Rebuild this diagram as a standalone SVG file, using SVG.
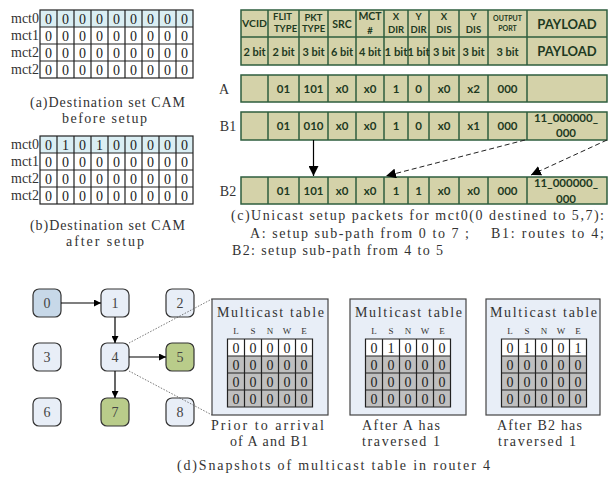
<svg xmlns="http://www.w3.org/2000/svg" width="609" height="477" viewBox="0 0 609 477">
<style>
.m{font-family:"Liberation Serif",serif;font-size:14px;fill:#333}
.d{font-family:"Liberation Serif",serif;font-size:14px;fill:#222;text-anchor:middle}
.c{stroke:#222;stroke-width:1.2}
.hb{font-family:Lato,"Liberation Sans",sans-serif;font-weight:700;fill:#1e3a22;text-anchor:middle}
.pk{fill:#d4d2a9;stroke:#2e5e3e;stroke-width:1.5}
.nd{stroke:#333;stroke-width:1.2}
.nl{font-family:"Liberation Serif",serif;font-size:14px;fill:#444;text-anchor:middle}
.mt{fill:#e8eef7;stroke:#444;stroke-width:1.2}
.hd{font-family:"Liberation Serif",serif;font-size:9px;fill:#333;text-anchor:middle}
</style>
<defs>
<marker id="ar" viewBox="0 0 10 10" refX="10" refY="5" markerWidth="7" markerHeight="7" orient="auto" markerUnits="userSpaceOnUse"><path d="M0,0L10,5L0,10z" fill="#000"/></marker>
<marker id="ar2" viewBox="0 0 10 10" refX="10" refY="5" markerWidth="10" markerHeight="10" orient="auto" markerUnits="userSpaceOnUse"><path d="M0,0L10,5L0,10z" fill="#000"/></marker>
</defs>

<!-- (a) CAM before setup -->
<g id="cam-a">
<rect x="40" y="10" width="153" height="17" fill="#daeef3"/>
<g class="c" fill="none">
<rect x="40" y="10" width="153" height="68"/>
<path d="M40,27H193M40,44H193M40,61H193M57,10V78M74,10V78M91,10V78M108,10V78M125,10V78M142,10V78M159,10V78M176,10V78"/>
</g>
<text class="m" x="39" y="23" text-anchor="end" textLength="28" lengthAdjust="spacingAndGlyphs">mct0</text>
<text class="m" x="39" y="40" text-anchor="end" textLength="28" lengthAdjust="spacingAndGlyphs">mct1</text>
<text class="m" x="39" y="57" text-anchor="end" textLength="28" lengthAdjust="spacingAndGlyphs">mct2</text>
<text class="m" x="39" y="74" text-anchor="end" textLength="28" lengthAdjust="spacingAndGlyphs">mct2</text>
<g class="d">
<text x="48.5" y="24">0</text><text x="65.5" y="24">0</text><text x="82.5" y="24">0</text><text x="99.5" y="24">0</text><text x="116.5" y="24">0</text><text x="133.5" y="24">0</text><text x="150.5" y="24">0</text><text x="167.5" y="24">0</text><text x="184.5" y="24">0</text>
<text x="48.5" y="41">0</text><text x="65.5" y="41">0</text><text x="82.5" y="41">0</text><text x="99.5" y="41">0</text><text x="116.5" y="41">0</text><text x="133.5" y="41">0</text><text x="150.5" y="41">0</text><text x="167.5" y="41">0</text><text x="184.5" y="41">0</text>
<text x="48.5" y="58">0</text><text x="65.5" y="58">0</text><text x="82.5" y="58">0</text><text x="99.5" y="58">0</text><text x="116.5" y="58">0</text><text x="133.5" y="58">0</text><text x="150.5" y="58">0</text><text x="167.5" y="58">0</text><text x="184.5" y="58">0</text>
<text x="48.5" y="75">0</text><text x="65.5" y="75">0</text><text x="82.5" y="75">0</text><text x="99.5" y="75">0</text><text x="116.5" y="75">0</text><text x="133.5" y="75">0</text><text x="150.5" y="75">0</text><text x="167.5" y="75">0</text><text x="184.5" y="75">0</text>
</g>
<text class="m" x="30" y="107" textLength="155" lengthAdjust="spacing">(a)Destination set CAM</text>
<text class="m" x="62" y="123" textLength="85" lengthAdjust="spacing">before setup</text>
</g>

<!-- (b) CAM after setup -->
<g id="cam-b">
<rect x="40" y="136" width="153" height="17" fill="#daeef3"/>
<g class="c" fill="none">
<rect x="40" y="136" width="153" height="68"/>
<path d="M40,153H193M40,170H193M40,187H193M57,136V204M74,136V204M91,136V204M108,136V204M125,136V204M142,136V204M159,136V204M176,136V204"/>
</g>
<text class="m" x="39" y="149" text-anchor="end" textLength="28" lengthAdjust="spacingAndGlyphs">mct0</text>
<text class="m" x="39" y="166" text-anchor="end" textLength="28" lengthAdjust="spacingAndGlyphs">mct1</text>
<text class="m" x="39" y="183" text-anchor="end" textLength="28" lengthAdjust="spacingAndGlyphs">mct2</text>
<text class="m" x="39" y="200" text-anchor="end" textLength="28" lengthAdjust="spacingAndGlyphs">mct2</text>
<g class="d">
<text x="48.5" y="150">0</text><text x="65.5" y="150">1</text><text x="82.5" y="150">0</text><text x="99.5" y="150">1</text><text x="116.5" y="150">0</text><text x="133.5" y="150">0</text><text x="150.5" y="150">0</text><text x="167.5" y="150">0</text><text x="184.5" y="150">0</text>
<text x="48.5" y="167">0</text><text x="65.5" y="167">0</text><text x="82.5" y="167">0</text><text x="99.5" y="167">0</text><text x="116.5" y="167">0</text><text x="133.5" y="167">0</text><text x="150.5" y="167">0</text><text x="167.5" y="167">0</text><text x="184.5" y="167">0</text>
<text x="48.5" y="184">0</text><text x="65.5" y="184">0</text><text x="82.5" y="184">0</text><text x="99.5" y="184">0</text><text x="116.5" y="184">0</text><text x="133.5" y="184">0</text><text x="150.5" y="184">0</text><text x="167.5" y="184">0</text><text x="184.5" y="184">0</text>
<text x="48.5" y="201">0</text><text x="65.5" y="201">0</text><text x="82.5" y="201">0</text><text x="99.5" y="201">0</text><text x="116.5" y="201">0</text><text x="133.5" y="201">0</text><text x="150.5" y="201">0</text><text x="167.5" y="201">0</text><text x="184.5" y="201">0</text>
</g>
<text class="m" x="30" y="230" textLength="155" lengthAdjust="spacing">(b)Destination set CAM</text>
<text class="m" x="66" y="246" textLength="78" lengthAdjust="spacing">after setup</text>
</g>

<!-- (c) packet format header -->
<g id="pkt-header">
<rect class="pk" x="241" y="10" width="366" height="55"/>
<path d="M241,37H607M268,10V65M299,10V65M328,10V65M356,10V65M384,10V65M408,10V65M429,10V65M459,10V65M488,10V65M527,10V65" stroke="#2e5e3e" stroke-width="1.5" fill="none"/>
<g class="hb" font-size="9.5">
<text x="254.5" y="27" textLength="25" lengthAdjust="spacingAndGlyphs">VCID</text>
<text x="282.5" y="20">FLIT</text><text x="285.5" y="32">TYPE</text>
<text x="313.5" y="21">PKT</text><text x="313.5" y="32">TYPE</text>
<text x="342" y="28" font-size="10.5">SRC</text>
<text x="370" y="20" font-size="10.5">MCT</text><text x="370" y="34">#</text>
<text x="396" y="20">X</text><text x="396" y="33">DIR</text>
<text x="418.5" y="20">Y</text><text x="418.5" y="33">DIR</text>
<text x="444" y="20">X</text><text x="444" y="33">DIS</text>
<text x="473.5" y="20">Y</text><text x="473.5" y="33">DIS</text>
<text x="507.5" y="21" font-size="7">OUTPUT</text><text x="507.5" y="31" font-size="7">PORT</text>
<text x="567" y="29" font-size="13">PAYLOAD</text>
</g>
<g class="hb" font-size="11">
<text x="254.5" y="56">2 bit</text>
<text x="283.5" y="56">2 bit</text>
<text x="313.5" y="56">3 bit</text>
<text x="342" y="56">6 bit</text>
<text x="370" y="56">4 bit</text>
<text x="396" y="56" textLength="23" lengthAdjust="spacingAndGlyphs">1 bit</text>
<text x="418.5" y="56" textLength="22" lengthAdjust="spacingAndGlyphs">1 bit</text>
<text x="444" y="56">3 bit</text>
<text x="473.5" y="56">3 bit</text>
<text x="507.5" y="56">3 bit</text>
<text x="567" y="56" font-size="13">PAYLOAD</text>
</g>
</g>

<!-- packet A -->
<g id="pkt-A">
<text class="m" x="224" y="94" text-anchor="middle">A</text>
<rect class="pk" x="241" y="75" width="366" height="27"/>
<path d="M268,75V102M299,75V102M328,75V102M356,75V102M384,75V102M408,75V102M429,75V102M459,75V102M488,75V102M527,75V102" stroke="#2e5e3e" stroke-width="1.5"/>
<g class="hb" font-size="11.5">
<text x="283.5" y="93">01</text><text x="313.5" y="93">101</text><text x="342" y="93">x0</text><text x="370" y="93">x0</text><text x="396" y="93">1</text><text x="418.5" y="93">0</text><text x="444" y="93">x0</text><text x="473.5" y="93">x2</text><text x="507.5" y="93">000</text>
</g>
</g>

<!-- packet B1 -->
<g id="pkt-B1">
<text class="m" x="228" y="131" text-anchor="middle">B1</text>
<rect class="pk" x="241" y="112" width="366" height="28"/>
<path d="M268,112V140M299,112V140M328,112V140M356,112V140M384,112V140M408,112V140M429,112V140M459,112V140M488,112V140M527,112V140" stroke="#2e5e3e" stroke-width="1.5"/>
<g class="hb" font-size="11.5">
<text x="283.5" y="130">01</text><text x="313.5" y="130">010</text><text x="342" y="130">x0</text><text x="370" y="130">x0</text><text x="396" y="130">1</text><text x="418.5" y="130">0</text><text x="444" y="130">x0</text><text x="473.5" y="130">x1</text><text x="507.5" y="130">000</text>
<text x="566" y="122">11_000000_</text><text x="566" y="137">000</text>
</g>
</g>

<!-- packet B2 -->
<g id="pkt-B2">
<text class="m" x="228" y="196" text-anchor="middle">B2</text>
<rect class="pk" x="241" y="177" width="366" height="27"/>
<path d="M268,177V204M299,177V204M328,177V204M356,177V204M384,177V204M408,177V204M429,177V204M459,177V204M488,177V204M527,177V204" stroke="#2e5e3e" stroke-width="1.5"/>
<g class="hb" font-size="11.5">
<text x="283.5" y="195">01</text><text x="313.5" y="195">101</text><text x="342" y="195">x0</text><text x="370" y="195">x0</text><text x="396" y="195">1</text><text x="418.5" y="195">1</text><text x="444" y="195">x0</text><text x="473.5" y="195">x0</text><text x="507.5" y="195">000</text>
<text x="566" y="187">11_000000_</text><text x="566" y="203">000</text>
</g>
</g>

<g id="pkt-connectors" fill="none">
<path d="M313.5,140V176" stroke="#000" stroke-width="1.2" marker-end="url(#ar2)"/>
<path d="M525,140L386,176" stroke="#222" stroke-width="1" stroke-dasharray="5,3" marker-end="url(#ar2)"/>
<path d="M607,140L531,175" stroke="#222" stroke-width="1" stroke-dasharray="5,3" marker-end="url(#ar2)"/>
</g>

<g id="caption-c">
<text class="m" x="231" y="220" textLength="373" lengthAdjust="spacing">(c)Unicast setup packets for mct0(0 destined to 5,7):</text>
<text class="m" x="250" y="238" textLength="219" lengthAdjust="spacing">A: setup sub-path from 0 to 7 ;</text>
<text class="m" x="604" y="238" text-anchor="end" textLength="113" lengthAdjust="spacing">B1: routes to 4;</text>
<text class="m" x="232" y="255" textLength="211" lengthAdjust="spacing">B2: setup sub-path from 4 to 5</text>
</g>

<!-- (d) mesh nodes -->
<g id="node-0"><rect class="nd" x="33" y="289" width="28" height="28" rx="6" fill="#c7d8e8"/><text class="nl" x="47" y="308">0</text></g>
<g id="node-1"><rect class="nd" x="101" y="289" width="28" height="28" rx="6" fill="#e8eef7"/><text class="nl" x="115" y="308">1</text></g>
<g id="node-2"><rect class="nd" x="166" y="289" width="28" height="28" rx="6" fill="#e8eef7"/><text class="nl" x="180" y="308">2</text></g>
<g id="node-3"><rect class="nd" x="33" y="343" width="28" height="28" rx="6" fill="#e8eef7"/><text class="nl" x="47" y="362">3</text></g>
<g id="node-4"><rect class="nd" x="101" y="343" width="28" height="28" rx="6" fill="#e8eef7"/><text class="nl" x="115" y="362">4</text></g>
<g id="node-5"><rect class="nd" x="166" y="343" width="28" height="28" rx="6" fill="#b9cc8a"/><text class="nl" x="180" y="362">5</text></g>
<g id="node-6"><rect class="nd" x="33" y="398" width="28" height="28" rx="6" fill="#e8eef7"/><text class="nl" x="47" y="417">6</text></g>
<g id="node-7"><rect class="nd" x="101" y="398" width="28" height="28" rx="6" fill="#b9cc8a"/><text class="nl" x="115" y="417">7</text></g>
<g id="node-8"><rect class="nd" x="166" y="398" width="28" height="28" rx="6" fill="#e8eef7"/><text class="nl" x="180" y="417">8</text></g>

<g id="connectors" fill="none">
<path d="M61,303H101" stroke="#000" stroke-width="1.2" marker-end="url(#ar)"/>
<path d="M115,317V343" stroke="#000" stroke-width="1.2" marker-end="url(#ar)"/>
<path d="M129,357H166" stroke="#000" stroke-width="1.2" marker-end="url(#ar)"/>
<path d="M115,371V398" stroke="#000" stroke-width="1.2" marker-end="url(#ar)"/>
<path d="M129,343L212,299M129,371L212,415" stroke="#555" stroke-width="0.8" stroke-dasharray="1.5,1.5"/>
</g>

<!-- multicast tables -->
<g id="mtable-1">
<rect class="mt" x="212" y="299" width="116" height="116"/>
<text class="m" x="217" y="317" textLength="107" lengthAdjust="spacing">Multicast table</text>
<g class="hd"><text x="236" y="334">L</text><text x="253" y="334">S</text><text x="270" y="334">N</text><text x="287" y="334">W</text><text x="304" y="334">E</text></g>
<rect x="227.5" y="339" width="85" height="17" fill="#fff"/>
<rect x="227.5" y="356" width="85" height="51" fill="#bfbfbf"/>
<path class="c" fill="none" d="M227.5,339h85v68h-85zM227.5,356h85M227.5,373h85M227.5,390h85M244.5,339v68M261.5,339v68M278.5,339v68M295.5,339v68"/>
<g class="d"><text x="236" y="353">0</text><text x="253" y="353">0</text><text x="270" y="353">0</text><text x="287" y="353">0</text><text x="304" y="353">0</text>
<text x="236" y="370">0</text><text x="253" y="370">0</text><text x="270" y="370">0</text><text x="287" y="370">0</text><text x="304" y="370">0</text>
<text x="236" y="387">0</text><text x="253" y="387">0</text><text x="270" y="387">0</text><text x="287" y="387">0</text><text x="304" y="387">0</text>
<text x="236" y="404">0</text><text x="253" y="404">0</text><text x="270" y="404">0</text><text x="287" y="404">0</text><text x="304" y="404">0</text></g>
<text class="m" x="211" y="430" textLength="113" lengthAdjust="spacing">Prior to arrival</text>
<text class="m" x="230" y="446" textLength="78" lengthAdjust="spacing">of A and B1</text>
</g>

<g id="mtable-2">
<rect class="mt" x="350" y="299" width="116" height="116"/>
<text class="m" x="355" y="317" textLength="107" lengthAdjust="spacing">Multicast table</text>
<g class="hd"><text x="374" y="334">L</text><text x="391" y="334">S</text><text x="408" y="334">N</text><text x="425" y="334">W</text><text x="442" y="334">E</text></g>
<rect x="365.5" y="339" width="85" height="17" fill="#fff"/>
<rect x="365.5" y="356" width="85" height="51" fill="#bfbfbf"/>
<path class="c" fill="none" d="M365.5,339h85v68h-85zM365.5,356h85M365.5,373h85M365.5,390h85M382.5,339v68M399.5,339v68M416.5,339v68M433.5,339v68"/>
<g class="d"><text x="374" y="353">0</text><text x="391" y="353">1</text><text x="408" y="353">0</text><text x="425" y="353">0</text><text x="442" y="353">0</text>
<text x="374" y="370">0</text><text x="391" y="370">0</text><text x="408" y="370">0</text><text x="425" y="370">0</text><text x="442" y="370">0</text>
<text x="374" y="387">0</text><text x="391" y="387">0</text><text x="408" y="387">0</text><text x="425" y="387">0</text><text x="442" y="387">0</text>
<text x="374" y="404">0</text><text x="391" y="404">0</text><text x="408" y="404">0</text><text x="425" y="404">0</text><text x="442" y="404">0</text></g>
<text class="m" x="362" y="430" textLength="78" lengthAdjust="spacing">After A has</text>
<text class="m" x="362" y="446" textLength="78" lengthAdjust="spacing">traversed 1</text>
</g>

<g id="mtable-3">
<rect class="mt" x="486" y="299" width="114" height="116"/>
<text class="m" x="490" y="317" textLength="107" lengthAdjust="spacing">Multicast table</text>
<g class="hd"><text x="510" y="334">L</text><text x="527" y="334">S</text><text x="544" y="334">N</text><text x="561" y="334">W</text><text x="578" y="334">E</text></g>
<rect x="501.5" y="339" width="85" height="17" fill="#fff"/>
<rect x="501.5" y="356" width="85" height="51" fill="#bfbfbf"/>
<path class="c" fill="none" d="M501.5,339h85v68h-85zM501.5,356h85M501.5,373h85M501.5,390h85M518.5,339v68M535.5,339v68M552.5,339v68M569.5,339v68"/>
<g class="d"><text x="510" y="353">0</text><text x="527" y="353">1</text><text x="544" y="353">0</text><text x="561" y="353">0</text><text x="578" y="353">1</text>
<text x="510" y="370">0</text><text x="527" y="370">0</text><text x="544" y="370">0</text><text x="561" y="370">0</text><text x="578" y="370">0</text>
<text x="510" y="387">0</text><text x="527" y="387">0</text><text x="544" y="387">0</text><text x="561" y="387">0</text><text x="578" y="387">0</text>
<text x="510" y="404">0</text><text x="527" y="404">0</text><text x="544" y="404">0</text><text x="561" y="404">0</text><text x="578" y="404">0</text></g>
<text class="m" x="497" y="430" textLength="85" lengthAdjust="spacing">After B2 has</text>
<text class="m" x="498" y="446" textLength="78" lengthAdjust="spacing">traversed 1</text>
</g>

<text class="m" x="177" y="470" textLength="313" lengthAdjust="spacing">(d)Snapshots of multicast table in router 4</text>
</svg>
